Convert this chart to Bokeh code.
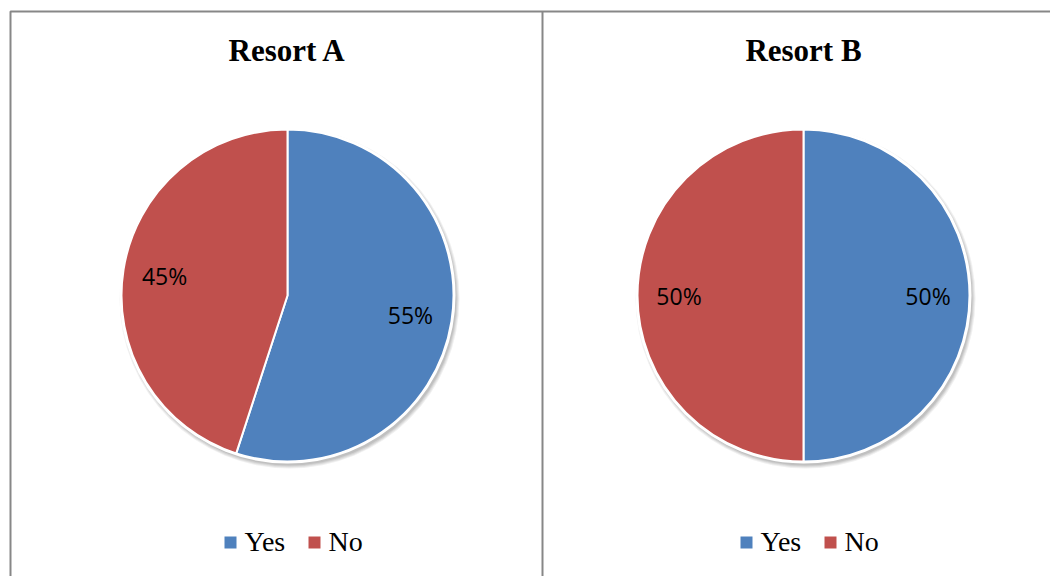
import math
from bokeh.plotting import figure
from bokeh.models import Range1d, ColumnDataSource
from bokeh.core.properties import value
from bokeh.embed import file_html
from bokeh.resources import INLINE

# ---- data ----
titles = ["Resort A", "Resort B"]
categories = ["Yes", "No"]
resort_a = [55, 45]
resort_b = [50, 50]
series = [resort_a, resort_b]
colors = ["#4F81BD", "#C0504D"]

# ---- layout (pixel-like data space, y up) ----
W, H = 1050, 576
centers_x = [287, 803]
center_y = H - 295
radius = 166
label_frac = 0.75

p = figure(width=W, height=H, x_range=Range1d(0, W), y_range=Range1d(0, H),
           output_backend="svg", toolbar_location=None, min_border=0)
p.axis.visible = False
p.grid.visible = False
p.outline_line_color = None
p.background_fill_color = "white"
p.border_fill_color = "white"

# panel borders
p.multi_line(xs=[[10, 10, W + 5], [542, 542]], ys=[[-5, H - 11, H - 11], [-5, H - 11]],
             line_color="#878787", line_width=2)

for cx, vals, title in zip(centers_x, series, titles):
    total = float(sum(vals))
    # soft shadow
    for k, a in enumerate([0.06, 0.06, 0.07, 0.08]):
        p.circle(x=[cx + 2], y=[center_y - 3], radius=radius + 4 - k, fill_color="#000000",
                 fill_alpha=a, line_color=None)
    starts, ends, lx, ly, texts = [], [], [], [], []
    cum = 0.0
    for v in vals:
        s = math.pi / 2 - 2 * math.pi * cum / total
        cum += v
        e = math.pi / 2 - 2 * math.pi * cum / total
        starts.append(s)
        ends.append(e)
        mid = (s + e) / 2
        lx.append(cx + label_frac * radius * math.cos(mid))
        ly.append(center_y + label_frac * radius * math.sin(mid))
        texts.append(f"{v}%")
    src = ColumnDataSource(dict(x=[cx] * len(vals), y=[center_y] * len(vals),
                                start=starts, end=ends, color=colors, cat=categories))
    p.wedge(x="x", y="y", radius=radius, start_angle="start", end_angle="end",
            direction="clock", fill_color="color", line_color="white", line_width=2, source=src)
    p.circle(x=[cx], y=[center_y], radius=radius + 1, fill_color=None,
             line_color="white", line_width=2)
    p.text(x=lx, y=ly, text=texts, text_align="center", text_baseline="middle",
           text_font=value("Open Sans"), text_font_size="23px", text_color="#000000")
    # title
    p.text(x=[cx], y=[H - 50], text=[title], text_align="center", text_baseline="middle",
           text_font=value("Liberation Serif"), text_font_style="bold",
           text_font_size="31px", text_color="#000000")
    # legend
    sq_x = [cx - 57, cx + 27]
    leg_y = H - 542
    p.rect(x=sq_x, y=[leg_y] * 2, width=12, height=12, fill_color=colors, line_color=None)
    p.text(x=[sx + 14 for sx in sq_x], y=[H - 541] * 2, text=categories,
           text_align="left", text_baseline="middle",
           text_font=value("Liberation Serif"), text_font_size="28px", text_color="#000000")

open("out.html", "w").write(file_html(p, INLINE))
